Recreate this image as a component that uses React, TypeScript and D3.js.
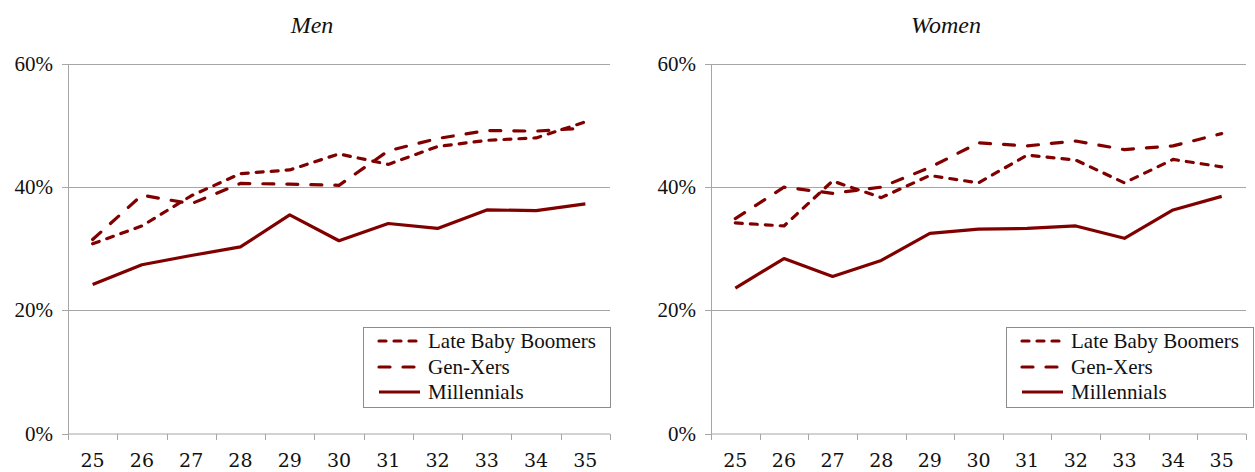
import React from "react";
import * as d3 from "d3";

const ages = ["25", "26", "27", "28", "29", "30", "31", "32", "33", "34", "35"];
const yTicks = [0, 20, 40, 60];
const seriesNames = ["Late Baby Boomers", "Gen-Xers", "Millennials"];

const menBoomers = [30.8, 33.7, 38.6, 42.2, 42.8, 45.4, 43.7, 46.6, 47.6, 48.0, 50.6];
const menGenX = [31.5, 38.7, 37.3, 40.6, 40.5, 40.3, 45.9, 47.9, 49.2, 49.1, 49.6];
const menMillennials = [24.2, 27.4, 28.9, 30.3, 35.5, 31.3, 34.1, 33.3, 36.3, 36.2, 37.3];

const womenBoomers = [34.2, 33.7, 41.0, 38.3, 41.9, 40.7, 45.2, 44.4, 40.7, 44.5, 43.3];
const womenGenX = [34.9, 40.0, 39.0, 40.0, 43.2, 47.2, 46.7, 47.5, 46.1, 46.7, 48.7];
const womenMillennials = [23.6, 28.4, 25.5, 28.1, 32.5, 33.2, 33.3, 33.7, 31.7, 36.3, 38.5];

const COLOR = "#800000";
const GRID = "#a6a6a6";
const FONT = '"Liberation Serif", serif';
const FONT2 = '"DejaVu Serif", serif';
const dashes = ["7 8", "11 13", null];

type PanelProps = {
  title: string;
  x0: number;
  x1: number;
  titleX: number;
  legendX: number;
  data: number[][];
};

function Panel({ title, x0, x1, titleX, legendX, data }: PanelProps) {
  const x = d3.scaleBand<string>().domain(ages).range([x0, x1]);
  const y = d3.scaleLinear().domain([0, 60]).range([433.5, 64]);
  const cx = (a: string) => (x(a) as number) + x.bandwidth() / 2;
  const line = d3
    .line<number>()
    .x((_, i) => cx(ages[i]))
    .y((v) => y(v));
  const edges = ages.map((a) => x(a) as number).concat([x1]);
  const legendY = [341, 367, 392];
  return (
    <g>
      <text x={titleX} y={33} fontFamily={FONT} fontStyle="italic" fontSize={24} textAnchor="middle" fill="#111">
        {title}
      </text>
      {yTicks.map((t) => (
        <g key={t}>
          {t > 0 && <line x1={x0} x2={x1} y1={Math.round(y(t)) + 0.5} y2={Math.round(y(t)) + 0.5} stroke={GRID} strokeWidth={1} />}
          <line x1={x0 - 6} x2={x0} y1={Math.round(y(t)) + 0.5} y2={Math.round(y(t)) + 0.5} stroke={GRID} strokeWidth={1} />
          <text x={x0 - 15} y={y(t) + 7} fontFamily={FONT} fontSize={21} textAnchor="end" fill="#111">
            {t}%
          </text>
        </g>
      ))}
      <line x1={x0 + 0.5} x2={x0 + 0.5} y1={64} y2={434} stroke={GRID} strokeWidth={1} />
      <line x1={x0} x2={x1} y1={434} y2={434} stroke={GRID} strokeWidth={1} />
      {edges.map((e, i) => (
        <line key={i} x1={Math.round(e) + 0.5} x2={Math.round(e) + 0.5} y1={434} y2={440} stroke={GRID} strokeWidth={1} />
      ))}
      {ages.map((a) => (
        <text key={a} x={cx(a)} y={467} fontFamily={FONT2} fontSize={19} textAnchor="middle" fill="#111">
          {a}
        </text>
      ))}
      {data.map((d, i) => (
        <path
          key={i}
          d={line(d) || ""}
          fill="none"
          stroke={COLOR}
          strokeWidth={3.2}
          strokeLinecap={dashes[i] ? "round" : "butt"}
          strokeLinejoin="round"
          strokeDasharray={dashes[i] || undefined}
        />
      ))}
      <rect x={legendX + 0.5} y={327.5} width={247} height={80} fill="white" stroke="#8c8c8c" strokeWidth={1} />
      {seriesNames.map((n, i) => (
        <g key={n}>
          <line
            x1={legendX + 16}
            x2={legendX + 57}
            y1={legendY[i]}
            y2={legendY[i]}
            stroke={COLOR}
            strokeWidth={3.2}
            strokeLinecap={dashes[i] ? "round" : "butt"}
            strokeDasharray={dashes[i] || undefined}
          />
          <text x={legendX + 65} y={legendY[i] + 7} fontFamily={FONT} fontSize={21} fill="#111">
            {n}
          </text>
        </g>
      ))}
    </g>
  );
}

export default function App() {
  return (
    <svg
      width={1255}
      height={472}
      style={{ position: "absolute", left: 0, top: 0, background: "white" }}
    >
      <rect width={1255} height={472} fill="white" />
      <Panel
        title="Men"
        x0={68}
        x1={610}
        titleX={312}
        legendX={363}
        data={[menBoomers, menGenX, menMillennials]}
      />
      <Panel
        title="Women"
        x0={711}
        x1={1246}
        titleX={946}
        legendX={1006}
        data={[womenBoomers, womenGenX, womenMillennials]}
      />
    </svg>
  );
}
